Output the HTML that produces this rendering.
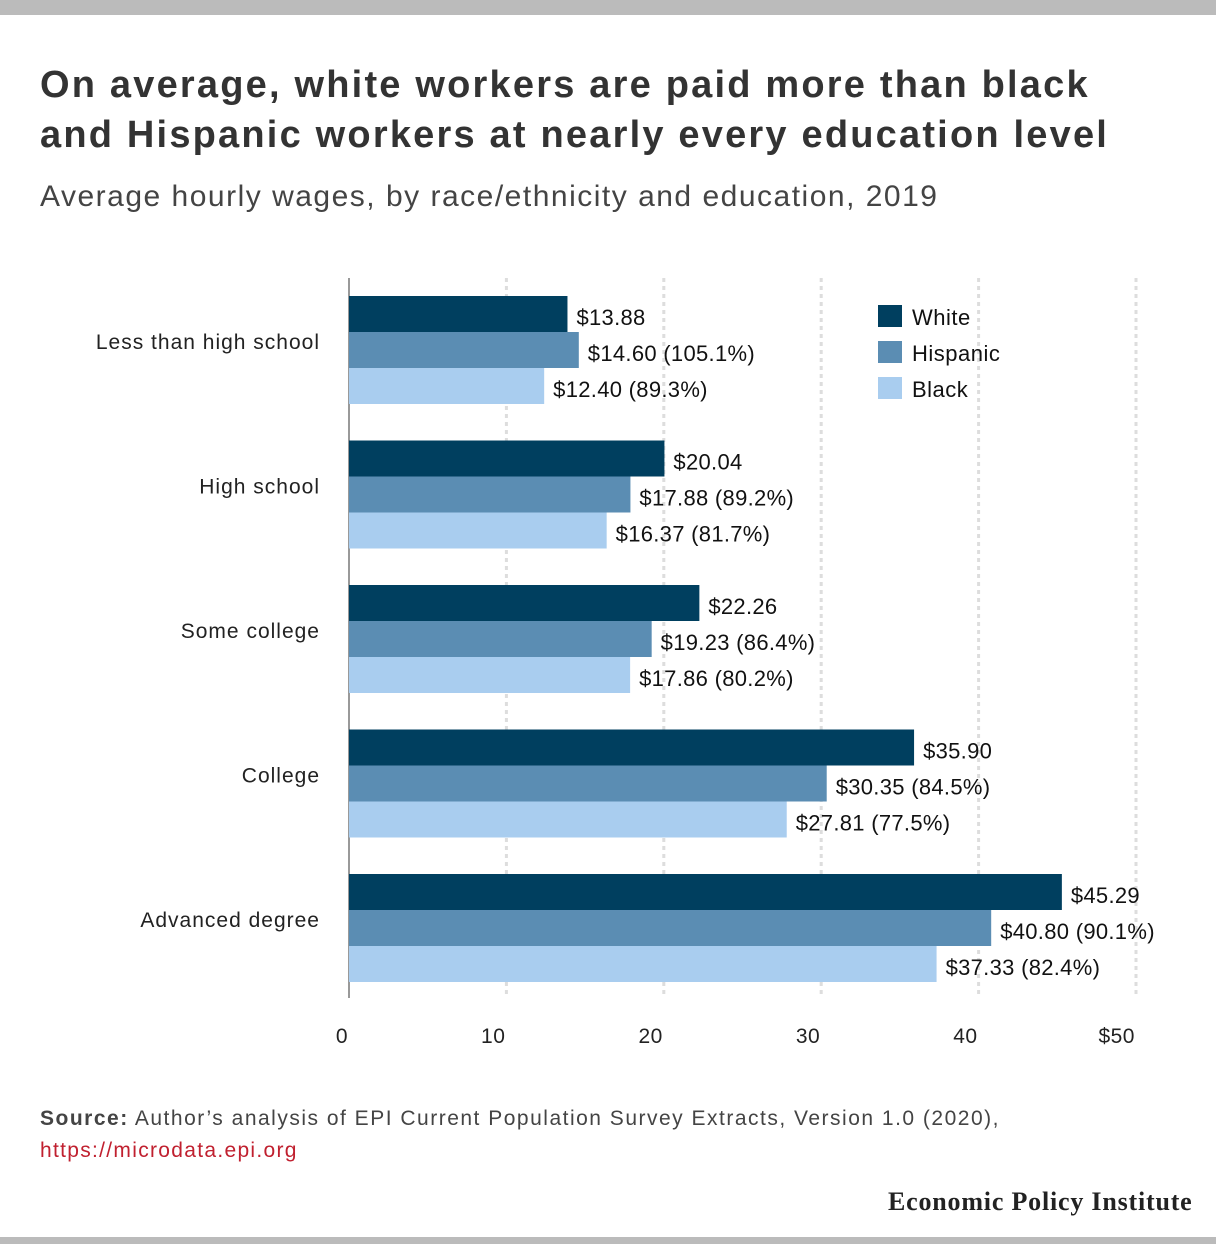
<!DOCTYPE html>
<html><head><meta charset="utf-8"><style>
body{margin:0;width:1216px;height:1244px;background:#fff;position:relative;overflow:hidden;font-family:"Liberation Sans",sans-serif;color:#333}
.abs{position:absolute;white-space:nowrap}
</style></head><body>
<div class="abs" style="left:0;top:0;width:1216px;height:15px;background:#bbb"></div>
<div class="abs" style="left:40px;top:60px;font-size:38px;font-weight:bold;line-height:50px;color:#333;letter-spacing:2.2px">On average, white workers are paid more than black<br>and Hispanic workers at nearly every education level</div>
<div class="abs" style="left:40px;top:180px;font-size:30px;color:#444;letter-spacing:1.5px">Average hourly wages, by race/ethnicity and education, 2019</div>
<svg class="abs" style="left:0;top:0" width="1216" height="1244" id="chart"></svg>
<div class="abs" style="left:40px;top:1107px;font-size:21px;color:#444;letter-spacing:1.5px"><b>Source:</b> Author’s analysis of EPI Current Population Survey Extracts, Version 1.0 (2020),</div>
<div class="abs" style="left:40px;top:1139px;font-size:21px;color:#c0202f;letter-spacing:1.3px">https://microdata.epi.org</div>
<div class="abs" style="left:888px;top:1187px;font-family:'Liberation Serif',serif;font-weight:bold;font-size:26px;color:#222;letter-spacing:0.8px">Economic Policy Institute</div>
<div class="abs" style="left:0;top:1237px;width:1216px;height:7px;background:#bbb"></div>
<script>
const categories=["Less than high school","High school","Some college","College","Advanced degree"];
const seriesNames=["White","Hispanic","Black"];
const white=[13.88,20.04,22.26,35.90,45.29];
const hispanic=[14.60,17.88,19.23,30.35,40.80];
const black=[12.40,16.37,17.86,27.81,37.33];
const hispPct=["105.1%","89.2%","86.4%","84.5%","90.1%"];
const blackPct=["89.3%","81.7%","80.2%","77.5%","82.4%"];
const ticks=[0,10,20,30,40,50];
const colors=["#003f5f","#5b8db3","#a9cdef"];
const svg=document.getElementById('chart');const NS="http://www.w3.org/2000/svg";
const x=v=>349+v*15.74;
function mk(t,a){const e=document.createElementNS(NS,t);for(const k in a)e.setAttribute(k,a[k]);svg.appendChild(e);return e;}
ticks.forEach((t,i)=>{
 if(t>0){const g=mk('line',{x1:x(t),x2:x(t),y1:278,y2:998,stroke:'#ddd','stroke-width':3,'stroke-dasharray':'4,4'});
 
 }
 const l=mk('text',{x:x(t)-1,y:1043,'text-anchor':'end','font-size':21,fill:'#222','letter-spacing':'0.5'});
 l.textContent=(t===50?'$':'')+t;
 
 
});
const ax=mk('line',{x1:349,x2:349,y1:278,y2:998,stroke:'#999','stroke-width':2});


const series=[white,hispanic,black];
categories.forEach((c,i)=>{
 const top=296+i*144.5;
 const lab=mk('text',{x:320,y:top+53,'text-anchor':'end','font-size':21,fill:'#222','letter-spacing':'1'});
 lab.textContent=c;
 
 
 series.forEach((s,j)=>{
  const y=top+j*36;
  const r=mk('rect',{x:349,y:y,width:x(s[i])-349,height:36,fill:colors[j]});
  
  
  const v=mk('text',{x:x(s[i])+9,y:y+29,'font-size':22,fill:'#111','letter-spacing':'0.3'});
  v.textContent='$'+s[i].toFixed(2)+(j===1?' ('+hispPct[i]+')':j===2?' ('+blackPct[i]+')':'');
  
  
 });
});
seriesNames.forEach((n,j)=>{
 const y=305+j*36;
 const r=mk('rect',{x:878,y:y,width:24,height:22,fill:colors[j]});
 
 
 const t=mk('text',{x:912,y:y+20,'font-size':22,fill:'#111','letter-spacing':'0.5'});
 t.textContent=n;
 
 
});
</script>
</body></html>
